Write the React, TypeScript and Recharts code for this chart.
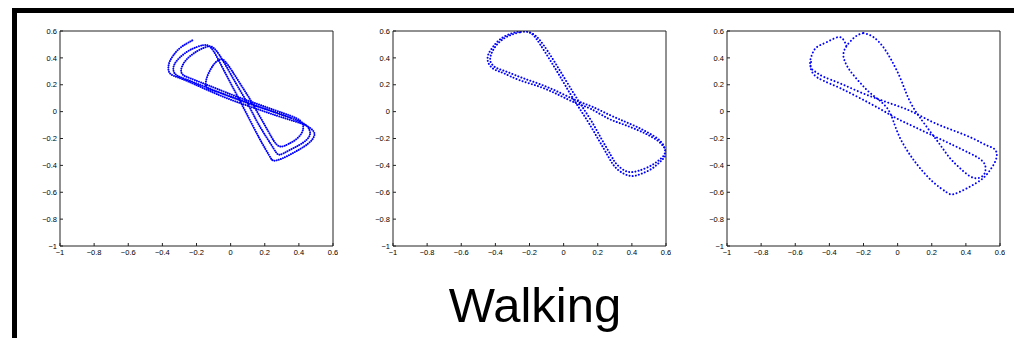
import { LineChart, Line, XAxis, YAxis } from 'recharts'

// axis ticks shared by the three panels
const X_TICKS = [-1, -0.8, -0.6, -0.4, -0.2, 0, 0.2, 0.4, 0.6]
const Y_TICKS = [-1, -0.8, -0.6, -0.4, -0.2, 0, 0.2, 0.4, 0.6]

// panel 1: three and a half turns, starting with the tail at the top left
const walk1: [number, number][] = [
  [-0.225, 0.53], [-0.26, 0.505], [-0.3, 0.47], [-0.335, 0.42], [-0.358, 0.37], [-0.365, 0.32], [-0.352, 0.28],
  [-0.31, 0.255], [-0.25, 0.225], [-0.17, 0.18], [-0.08, 0.13], [0.03, 0.075], [0.15, 0.022], [0.27, -0.03],
  [0.37, -0.07], [0.445, -0.105], [0.485, -0.145], [0.49, -0.18], [0.47, -0.22], [0.43, -0.26], [0.37, -0.305],
  [0.3, -0.35], [0.255, -0.365], [0.235, -0.345], [0.205, -0.28], [0.165, -0.19], [0.12, -0.08], [0.075, 0.03],
  [0.03, 0.14], [-0.02, 0.26], [-0.065, 0.37], [-0.1, 0.45], [-0.13, 0.49], [-0.16, 0.495],
  [-0.2, 0.48], [-0.25, 0.45], [-0.3, 0.4], [-0.33, 0.35], [-0.335, 0.305], [-0.315, 0.27], [-0.26, 0.24],
  [-0.18, 0.2], [-0.09, 0.155], [0.02, 0.1], [0.14, 0.045], [0.26, -0.005], [0.36, -0.05], [0.43, -0.09],
  [0.46, -0.13], [0.465, -0.17], [0.445, -0.21], [0.4, -0.25], [0.34, -0.29], [0.29, -0.32], [0.265, -0.3],
  [0.235, -0.24], [0.19, -0.15], [0.145, -0.05], [0.1, 0.06], [0.05, 0.17], [0.0, 0.28], [-0.045, 0.38],
  [-0.085, 0.455], [-0.115, 0.485], [-0.145, 0.48],
  [-0.19, 0.455], [-0.24, 0.41], [-0.275, 0.36], [-0.29, 0.31], [-0.28, 0.275], [-0.24, 0.25], [-0.17, 0.215],
  [-0.08, 0.17], [0.03, 0.115], [0.15, 0.06], [0.26, 0.01], [0.35, -0.03], [0.41, -0.07], [0.425, -0.11],
  [0.42, -0.15], [0.39, -0.2], [0.34, -0.24], [0.3, -0.26], [0.27, -0.245], [0.24, -0.19], [0.2, -0.1],
  [0.155, 0.0], [0.11, 0.1], [0.06, 0.2], [0.01, 0.3], [-0.03, 0.37], [-0.055, 0.39], [-0.085, 0.37],
  [-0.115, 0.32], [-0.14, 0.25], [-0.145, 0.19], [-0.12, 0.165], [-0.05, 0.135], [0.05, 0.09], [0.17, 0.035],
  [0.28, -0.015], [0.36, -0.05],
]

// panel 2: two almost identical turns
const walk2a: [number, number][] = [
  [-0.27, 0.595], [-0.33, 0.57], [-0.38, 0.53], [-0.415, 0.48], [-0.44, 0.43], [-0.445, 0.38], [-0.43, 0.34],
  [-0.4, 0.31], [-0.35, 0.285], [-0.26, 0.235], [-0.14, 0.185], [-0.03, 0.125], [0.07, 0.065], [0.16, 0.02],
  [0.26, -0.05], [0.35, -0.095], [0.43, -0.135], [0.49, -0.17], [0.55, -0.215], [0.585, -0.26], [0.6, -0.3],
  [0.59, -0.34], [0.56, -0.38], [0.51, -0.43], [0.45, -0.465], [0.4, -0.48], [0.35, -0.46], [0.3, -0.41],
  [0.26, -0.33], [0.21, -0.22], [0.15, -0.09], [0.095, 0.02], [0.04, 0.13], [-0.02, 0.26], [-0.08, 0.385],
  [-0.14, 0.505], [-0.175, 0.565], [-0.2, 0.59], [-0.23, 0.6], [-0.27, 0.595],
]
const walk2b: [number, number][] = [
  [-0.26, 0.59], [-0.32, 0.565], [-0.37, 0.525], [-0.405, 0.475], [-0.425, 0.425], [-0.43, 0.38], [-0.415, 0.345],
  [-0.385, 0.32], [-0.33, 0.295], [-0.24, 0.25], [-0.13, 0.2], [-0.02, 0.14], [0.08, 0.08], [0.17, 0.035],
  [0.27, -0.025], [0.36, -0.075], [0.44, -0.12], [0.5, -0.16], [0.555, -0.205], [0.585, -0.25], [0.595, -0.29],
  [0.585, -0.33], [0.55, -0.37], [0.5, -0.41], [0.44, -0.44], [0.4, -0.45], [0.36, -0.44], [0.31, -0.39],
  [0.275, -0.32], [0.225, -0.21], [0.17, -0.085], [0.115, 0.025], [0.06, 0.135], [0.0, 0.26], [-0.06, 0.385],
  [-0.12, 0.5], [-0.16, 0.56], [-0.19, 0.585], [-0.22, 0.595], [-0.26, 0.59],
]

// panel 3: two different turns (right lobe -> small lower lobe, left lobe -> big lower lobe)
const walk3a: [number, number][] = [
  [-0.2, 0.585], [-0.142, 0.555], [-0.084, 0.48], [-0.035, 0.38], [0.014, 0.255], [0.053, 0.13], [0.092, 0.03],
  [0.131, -0.045], [0.189, -0.145], [0.248, -0.245], [0.306, -0.345], [0.365, -0.42], [0.423, -0.48],
  [0.47, -0.495], [0.505, -0.47], [0.515, -0.43], [0.51, -0.39], [0.48, -0.35], [0.423, -0.31], [0.326, -0.25],
  [0.209, -0.18], [0.092, -0.11], [-0.006, -0.05], [-0.103, 0.02], [-0.22, 0.1], [-0.337, 0.175],
  [-0.435, 0.23], [-0.49, 0.275], [-0.51, 0.33], [-0.505, 0.38],
]
const walk3b: [number, number][] = [
  [-0.3, 0.49], [-0.315, 0.53], [-0.347, 0.555], [-0.415, 0.5175], [-0.474, 0.48], [-0.5, 0.43], [-0.513, 0.37],
  [-0.505, 0.32], [-0.48, 0.295], [-0.435, 0.26], [-0.337, 0.21], [-0.22, 0.145], [-0.103, 0.088],
  [-0.006, 0.045], [0.092, -0.005], [0.209, -0.08], [0.326, -0.14], [0.442, -0.2], [0.52, -0.25],
  [0.569, -0.28], [0.58, -0.34], [0.55, -0.42], [0.501, -0.495], [0.442, -0.545], [0.384, -0.585],
  [0.326, -0.615], [0.287, -0.6], [0.209, -0.525], [0.131, -0.42], [0.072, -0.32], [0.014, -0.195],
  [-0.025, -0.07], [-0.055, 0.015], [-0.103, 0.08], [-0.162, 0.14], [-0.22, 0.215], [-0.279, 0.305],
  [-0.308, 0.37], [-0.318, 0.42], [-0.308, 0.47], [-0.279, 0.52], [-0.24, 0.565], [-0.2, 0.585],
]

const BLUE = '#0000ff'
const AXIS = '#222'
const FONT = '"Liberation Sans", Arial, Helvetica, sans-serif'

const toPts = (a: [number, number][]) => a.map(([x, y]) => ({ x, y }))
const fmt = (v: number) => (v < 0 ? '\u2212' + String(Math.abs(v)) : String(v))

const PLOT_TOP = 31
const PLOT_W = 273
const PLOT_H = 215

function Panel({ left, walks, dash }: { left: number; walks: [number, number][][]; dash: string }) {
  const tickStyle = { fontSize: 7.5, fill: '#000', fontFamily: FONT }
  return (
    <div style={{ position: 'absolute', left: left - 40, top: PLOT_TOP - 5 }}>
      <LineChart width={40 + PLOT_W + 5} height={5 + PLOT_H + 20} margin={{ top: 4, right: 4, left: 0, bottom: 0 }}>
        <XAxis
          type="number"
          dataKey="x"
          domain={[-1, 0.6]}
          ticks={X_TICKS}
          interval={0}
          allowDataOverflow
          height={20}
          tickSize={-3}
          tickMargin={7}
          tickFormatter={fmt}
          tick={tickStyle}
          stroke={AXIS}
        />
        <XAxis
          xAxisId="top"
          orientation="top"
          type="number"
          dataKey="x"
          domain={[-1, 0.6]}
          ticks={X_TICKS}
          interval={0}
          allowDataOverflow
          height={1}
          tickSize={-3}
          tick={false}
          stroke={AXIS}
        />
        <YAxis
          type="number"
          domain={[-1, 0.6]}
          ticks={Y_TICKS}
          interval={0}
          allowDataOverflow
          width={40}
          tickSize={-3}
          tickMargin={6}
          tickFormatter={fmt}
          tick={tickStyle}
          stroke={AXIS}
        />
        <YAxis
          yAxisId="right"
          orientation="right"
          type="number"
          domain={[-1, 0.6]}
          ticks={Y_TICKS}
          interval={0}
          allowDataOverflow
          width={1}
          tickSize={-3}
          tick={false}
          stroke={AXIS}
        />
        {walks.map((w, i) => (
          <Line
            key={i}
            data={toPts(w)}
            dataKey="y"
            type="natural"
            stroke={BLUE}
            strokeWidth={2}
            strokeDasharray={dash}
            strokeLinecap="round"
            dot={false}
            activeDot={false}
            isAnimationActive={false}
          />
        ))}
      </LineChart>
    </div>
  )
}

export default function App() {
  return (
    <div style={{ position: 'absolute', left: 0, top: 0, width: 1014, height: 338, background: '#fff', overflow: 'hidden' }}>
      <div style={{ position: 'absolute', left: 12, top: 8, width: 1002, height: 5, background: '#000' }} />
      <div style={{ position: 'absolute', left: 12, top: 8, width: 5, height: 330, background: '#000' }} />
      <Panel left={60} walks={[walk1]} dash="0.01 2.2" />
      <Panel left={393} walks={[walk2a, walk2b]} dash="0.01 3.2" />
      <Panel left={727} walks={[walk3a, walk3b]} dash="0.01 3.6" />
      <div
        style={{
          position: 'absolute',
          left: 0,
          width: 1070,
          top: 281,
          textAlign: 'center',
          fontFamily: FONT,
          fontSize: 49,
          lineHeight: '49px',
          color: '#000',
        }}
      >
        Walking
      </div>
    </div>
  )
}
